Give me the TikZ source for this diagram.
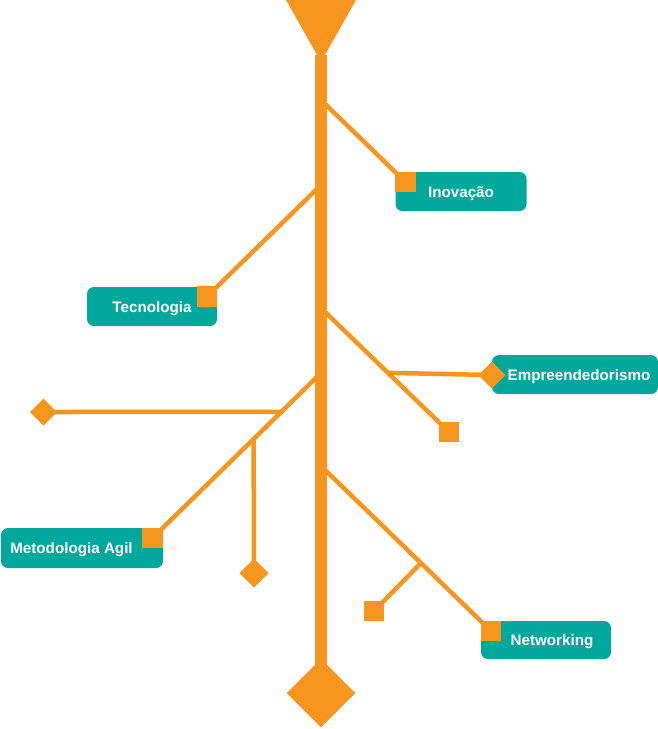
\documentclass[tikz,border=0pt]{standalone}
\usepackage{fontspec}
\setmainfont{Liberation Sans}
\usetikzlibrary{shapes.geometric,calc}
\definecolor{tor}{RGB}{247,150,31}
\definecolor{tteal}{RGB}{0,168,155}
\begin{document}
\begin{tikzpicture}[x=1pt,y=-1pt,
  box/.style={fill=tteal, rounded corners=7pt, text=white, font=\fontsize{15.2}{17}\selectfont\bfseries, inner sep=0pt, outer sep=0pt, text height=11pt, text depth=0pt},
  sqbox/.style={fill=tor, minimum size=20.5pt, inner sep=0pt, outer sep=0pt},
  dia/.style={diamond, fill=tor, inner sep=0pt, outer sep=0pt, minimum width=#1, minimum height=#1},
  branch/.style={draw=tor, line width=4.5pt}]
\useasboundingbox (0,0) rectangle (658,729);
% anchor points on the trunk
\coordinate (tTop) at (321,55);
\coordinate (sIno) at (321,100);
\coordinate (sTec) at (321,185);
\coordinate (sEmp) at (321,308);
\coordinate (sMet) at (321,373);
\coordinate (sNet) at (321,466);
% end markers
\node[sqbox] (inosq) at (405.5,182) {};
\node[sqbox] (tecsq) at (207,296.5) {};
\node[sqbox] (empsq) at (449,432) {};
\node[sqbox] (metsq) at (152.5,538) {};
\node[sqbox] (netsq) at (491,631) {};
\node[sqbox] (subsq) at (374,611) {};
\node[dia=27pt] (empd) at (492,375) {};
\node[dia=27pt] (leftd) at (43.5,412) {};
\node[dia=29pt] (lowd) at (254,573) {};
\node[dia=68pt] (bot) at (321,693) {};
% branch points
\coordinate (bEmp) at ($(sEmp)!0.523!(empsq.center)$);
\coordinate (bLeft) at ($(sMet)!0.236!(metsq.center)$);
\coordinate (bLow) at ($(sMet)!0.4!(metsq.center)$);
\coordinate (bNet) at ($(sNet)!0.588!(netsq.center)$);
% branches
\draw[branch] (sIno) -- (inosq.center);
\draw[branch] (sTec) -- (tecsq.center);
\draw[branch] (sEmp) -- (empsq.center);
\draw[branch] (bEmp) -- (empd.center);
\draw[branch] (sMet) -- (metsq.center);
\draw[branch] (bLeft) -- (leftd.center);
\draw[branch] (bLow) -- (lowd.center);
\draw[branch] (sNet) -- (netsq.center);
\draw[branch] (bNet) -- (subsq.center);
% trunk
\fill[tor] (286,0) -- (356,0) -- (321,62) -- cycle;
\draw[tor, line width=12pt] (tTop) -- (bot.center);
\node[dia=68pt] at (bot.center) {};
% boxes
\node[box, minimum width=131pt, minimum height=39pt] (ino) at (461,191.5) {Inovação};
\node[box, minimum width=130pt, minimum height=39pt] (tec) at (152,306.5) {Tecnologia};
\node[box, minimum width=166pt, minimum height=39pt] (emp) at (575,374.5) {\hspace*{8pt}Empreendedorismo};
\node[box, minimum width=162pt, minimum height=40pt] (met) at (82,548) {Metodologia Agil\hspace*{21pt}};
\node[box, minimum width=130pt, minimum height=38pt] (net) at (546,640) {\hspace*{12pt}Networking};
% markers on top of boxes
\node[sqbox] at (inosq.center) {};
\node[sqbox] at (tecsq.center) {};
\node[sqbox] at (metsq.center) {};
\node[sqbox] at (netsq.center) {};
\node[dia=27pt] at (empd.center) {};
\end{tikzpicture}
\end{document}
